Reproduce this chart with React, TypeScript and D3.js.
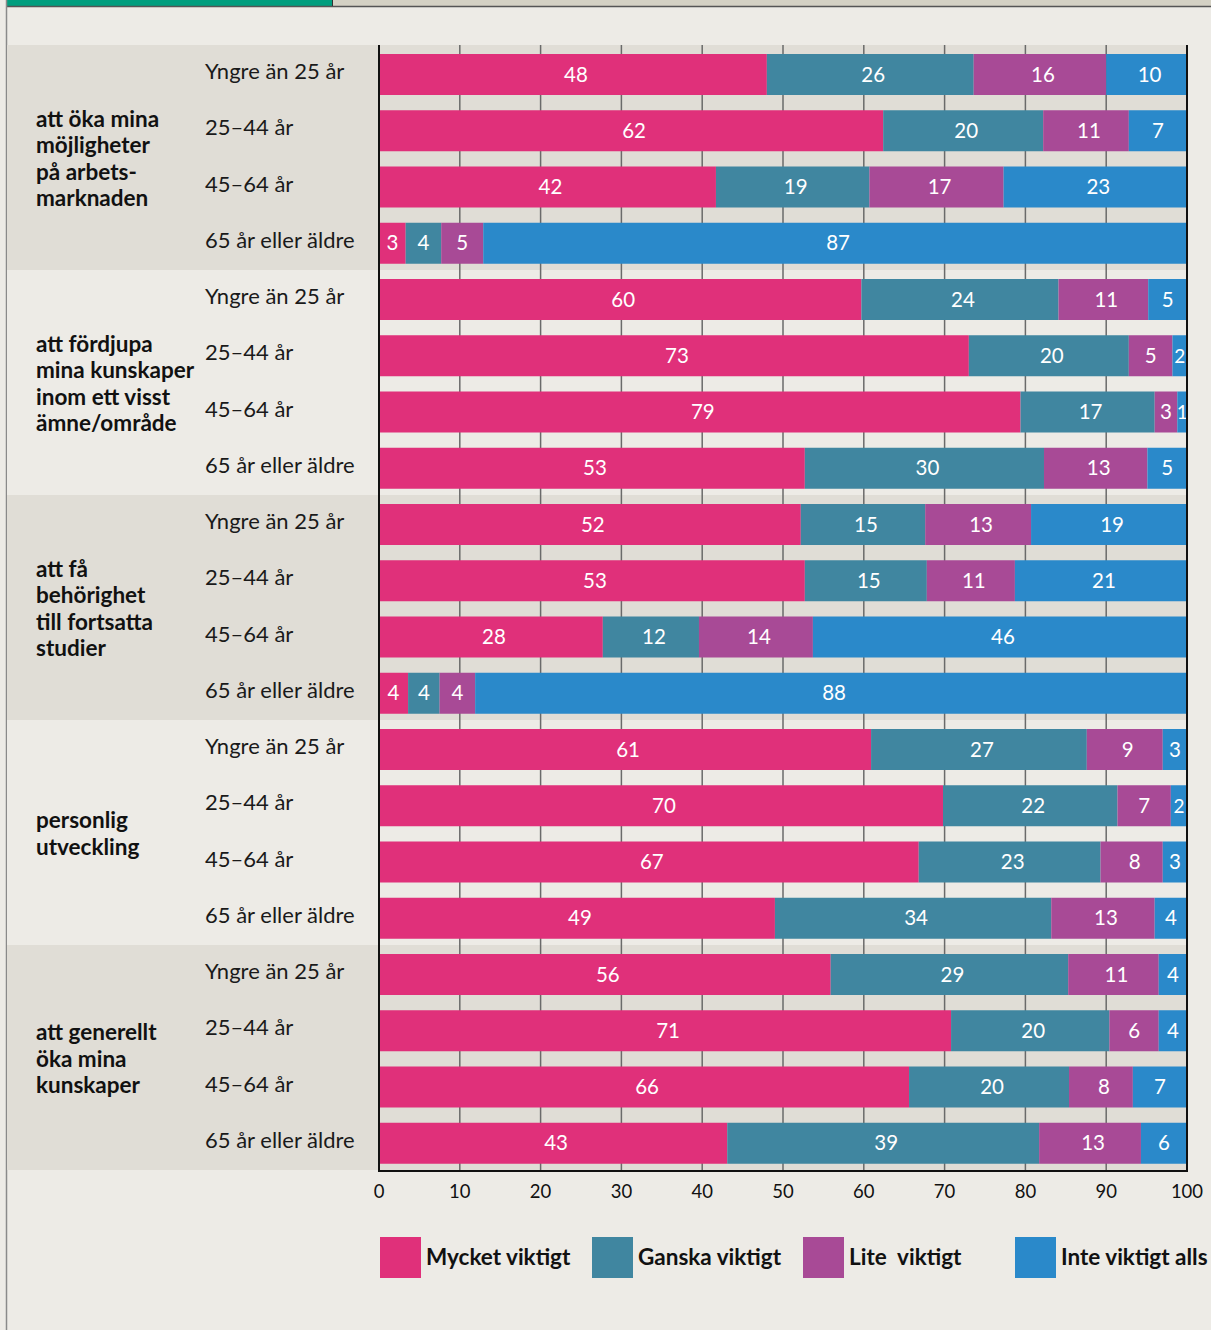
import React from "react";
import * as d3 from "d3";

const series = ["Mycket viktigt", "Ganska viktigt", "Lite  viktigt", "Inte viktigt alls"];
const colors = ["#e0307a", "#4086a0", "#a84a96", "#2a89ca"];

const groups = [
  ["att öka mina", "möjligheter", "på arbets-", "marknaden"],
  ["att fördjupa", "mina kunskaper", "inom ett visst", "ämne/område"],
  ["att få", "behörighet", "till fortsatta", "studier"],
  ["personlig", "utveckling"],
  ["att generellt", "öka mina", "kunskaper"],
];

const ages = ["Yngre än 25 år", "25–44 år", "45–64 år", "65 år eller äldre"];

// values per row (group-major, then age), four series each
const mycket = [48.0, 62.4, 41.7, 3.3, 59.7, 73.0, 79.4, 52.7, 52.2, 52.7, 27.7, 3.6, 60.9, 69.8, 66.8, 49.0, 55.9, 70.8, 65.6, 43.1];
const ganska = [25.6, 19.8, 19.0, 4.4, 24.4, 19.8, 16.6, 29.6, 15.4, 15.1, 11.9, 3.9, 26.7, 21.6, 22.5, 34.2, 29.4, 19.6, 19.8, 38.6];
const lite = [16.4, 10.6, 16.6, 5.2, 11.1, 5.4, 2.8, 12.8, 13.1, 10.9, 14.1, 4.4, 9.4, 6.6, 7.7, 12.8, 11.2, 6.1, 7.9, 12.6];
const inte = [10.0, 7.2, 22.7, 87.1, 4.8, 1.8, 1.2, 4.9, 19.3, 21.3, 46.3, 88.1, 3.0, 2.0, 3.0, 4.0, 3.5, 3.5, 6.7, 5.7];

const xTicks = [0, 10, 20, 30, 40, 50, 60, 70, 80, 90, 100];

const FONT = "Lato, 'Open Sans', sans-serif";

export default function App() {
  const W = 1211;
  const H = 1330;
  const x = d3.scaleLinear().domain([0, 100]).range([379, 1187]);
  const rows = d3.range(20);
  const y = d3.scaleBand<number>().domain(rows).range([45, 1170]);
  const rowH = y.bandwidth();
  const barOff = 9;
  const barH = 41;
  const stack = rows.map((i) => {
    const vals = [mycket[i], ganska[i], lite[i], inte[i]];
    let c = 0;
    return vals.map((v, k) => {
      const s = c;
      c += v;
      return { k, v, s, e: c };
    });
  });

  return (
    <svg width={W} height={H} style={{ position: "absolute", left: 0, top: 0, fontFamily: FONT }}>
      <rect x={0} y={0} width={W} height={H} fill="#edebe6" />
      {/* top strip */}
      <rect x={332} y={0} width={W - 332} height={6} fill="#d4d1c4" />
      <rect x={6} y={0} width={326} height={6} fill="#009e7e" />
      <line x1={6} x2={W} y1={6.5} y2={6.5} stroke="#555" strokeWidth={1.5} />
      <line x1={332.5} x2={332.5} y1={0} y2={6} stroke="#333" strokeWidth={1} />
      <line x1={6.5} x2={6.5} y1={0} y2={H} stroke="#8a8a8a" strokeWidth={1.5} />

      {/* group bands */}
      {groups.map((g, gi) => (
        <rect key={gi} x={7} y={y(gi * 4)!} width={1187 - 7} height={rowH * 4} fill={gi % 2 === 0 ? "#e0ddd6" : "#edebe6"} />
      ))}

      {/* gridlines */}
      {xTicks.slice(1, -1).map((t) => (
        <line key={t} x1={x(t)} x2={x(t)} y1={45} y2={1171} stroke="#6a6a6a" strokeWidth={1.5} />
      ))}

      {/* bars */}
      {rows.map((i) => (
        <g key={i}>
          {stack[i].map((d) => (
            <rect key={d.k} x={x(d.s)} y={y(i)! + barOff} width={x(d.e) - x(d.s)} height={barH} fill={colors[d.k]} />
          ))}
          {stack[i].map((d) => {
            const w = x(d.e) - x(d.s);
            return (
              <text key={"t" + d.k} x={(x(d.s) + x(d.e)) / 2 + (w > 60 ? 3 : 0)} y={y(i)! + barOff + barH / 2 + 7} textAnchor="middle" fill="#fff" fontSize={w < 20 ? 19 : 20.5}>
                {Math.round(d.v)}
              </text>
            );
          })}
        </g>
      ))}

      {/* axes */}
      <line x1={379} x2={379} y1={45} y2={1172} stroke="#111" strokeWidth={2} />
      <line x1={1187} x2={1187} y1={45} y2={1172} stroke="#111" strokeWidth={2} />
      <line x1={378} x2={1188} y1={1171} y2={1171} stroke="#111" strokeWidth={2} />
      {xTicks.map((t) => (
        <text key={t} x={x(t)} y={1198} textAnchor="middle" fontSize={18.5} fill="#111">
          {t}
        </text>
      ))}

      {/* age labels */}
      {rows.map((i) => (
        <text key={i} x={205} y={y(i)! + 34} fontSize={22} fill="#1a1a1a">
          {ages[i % 4]}
        </text>
      ))}

      {/* group labels */}
      {groups.map((g, gi) => {
        const cy = y(gi * 4)! + rowH * 2 + 2;
        const lh = 26.5;
        const top = cy - ((g.length - 1) * lh) / 2;
        return (
          <text key={gi} x={36} fontSize={22.5} fontWeight="bold" fill="#111">
            {g.map((ln, li) => (
              <tspan key={li} x={36} y={top + li * lh + 7}>
                {ln}
              </tspan>
            ))}
          </text>
        );
      })}

      {/* legend */}
      {series.map((s, k) => {
        const lx = [380, 592, 803, 1015][k];
        return (
          <g key={s}>
            <rect x={lx} y={1237} width={41} height={41} fill={colors[k]} />
            <text x={lx + 46} y={1265} fontSize={22.5} fontWeight="bold" fill="#111" style={{ whiteSpace: "pre" }}>
              {s}
            </text>
          </g>
        );
      })}
    </svg>
  );
}
